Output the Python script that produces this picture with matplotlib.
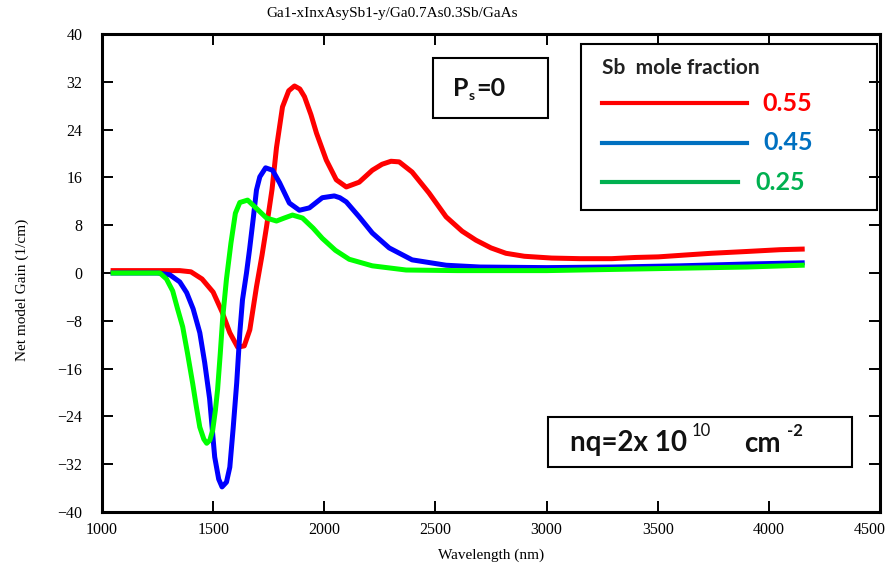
import matplotlib
matplotlib.use("Agg")
import matplotlib.pyplot as plt
from matplotlib.patches import Rectangle
from matplotlib.lines import Line2D
from matplotlib.transforms import ScaledTranslation

# Sb mole fraction 0.55
wl_r = [1050, 1150, 1250, 1350, 1400, 1450, 1500, 1540, 1575, 1610, 1640, 1665, 1695, 1720, 1740,
        1765, 1785, 1812, 1840, 1866, 1890, 1911, 1940, 1965, 2009, 2054, 2099, 2157, 2216, 2260,
        2300, 2337, 2395, 2471, 2548, 2620, 2682, 2750, 2817, 2900, 3023, 3150, 3293, 3400, 3503,
        3620, 3741, 3900, 4050, 4150]
g_r = [0.4, 0.4, 0.4, 0.4, 0.2, -1.0, -3.2, -6.5, -10, -12.4, -12.2, -9.5, -2.3, 3.0, 7.7,
       14, 21, 27.8, 30.5, 31.3, 30.8, 29.5, 26.5, 23.4, 18.9, 15.6, 14.4, 15.2, 17.2, 18.2,
       18.7, 18.6, 16.9, 13.4, 9.4, 7.0, 5.5, 4.2, 3.3, 2.8, 2.5, 2.4, 2.4, 2.6, 2.7,
       3.0, 3.3, 3.6, 3.9, 4.0]

# Sb mole fraction 0.45
wl_b = [1050, 1150, 1250, 1305, 1350, 1381, 1410, 1440, 1462, 1484, 1507, 1525, 1540, 1560, 1575,
        1590, 1606, 1620, 1632, 1650, 1664, 1680, 1695, 1710, 1736, 1767, 1799, 1843, 1888, 1933,
        1991, 2045, 2070, 2099, 2157, 2216, 2292, 2395, 2548, 2700, 3000, 3300, 3600, 3900, 4150]
g_b = [0, 0, 0, -0.3, -1.5, -3.3, -6, -10, -15, -21, -30.8, -34.5, -35.8, -35, -32.5,
       -26, -18.4, -10, -4.5, 0, 4, 9, 13.9, 16.1, 17.6, 17.2, 15.1, 11.7, 10.5, 10.9,
       12.6, 12.9, 12.6, 11.9, 9.4, 6.7, 4.2, 2.2, 1.3, 1.0, 0.9, 1.0, 1.2, 1.5, 1.7]

# Sb mole fraction 0.25
wl_g = [1050, 1150, 1215, 1260, 1290, 1318, 1340, 1363, 1385, 1408, 1425, 1440, 1458, 1471, 1485,
        1498, 1510, 1520, 1532, 1543, 1560, 1580, 1600, 1620, 1655, 1695, 1740, 1785, 1820, 1857,
        1902, 1950, 1991, 2050, 2112, 2216, 2368, 2600, 3000, 3300, 3600, 3900, 4150]
g_g = [0, 0, 0, 0, -1, -3, -6, -9, -13.5, -18.5, -22.5, -25.8, -27.8, -28.5, -28,
       -26.3, -23, -19.5, -13.5, -7.5, -1, 5, 10, 11.8, 12.2, 10.8, 9.2, 8.7, 9.2, 9.7,
       9.2, 7.5, 5.8, 3.8, 2.3, 1.2, 0.5, 0.4, 0.4, 0.6, 0.8, 1.0, 1.3]

fractions = ["0.55", "0.45", "0.25"]
x_ticks = [1000, 1500, 2000, 2500, 3000, 3500, 4000, 4500]
y_ticks = [-40, -32, -24, -16, -8, 0, 8, 16, 24, 32, 40]

W, H = 887, 564
serif = "Liberation Serif"
sans = "Lato"
ink = "#111111"


def fx(px):
    return px / W


def fy(py):
    return 1 - py / H


fig = plt.figure(figsize=(W / 100, H / 100), dpi=100)
ax = fig.add_axes([fx(102), fy(512), fx(880) - fx(102), fy(34) - fy(512)])

ax.plot(wl_r, g_r, color="#ff0000", lw=3.6, solid_joinstyle="round")
ax.plot(wl_b, g_b, color="#0000ff", lw=3.6, solid_joinstyle="round")
ax.plot(wl_g, g_g, color="#00ff00", lw=3.6, solid_joinstyle="round")

ax.set_xlim(1000, 4500)
ax.set_ylim(-40, 40)
ax.set_xticks(x_ticks)
ax.set_yticks(y_ticks)
ax.tick_params(direction="in", length=8, width=1.4, top=True, right=True,
               labelsize=11.5, pad=7)
ax.tick_params(axis="y", pad=14)
for lab in ax.get_xticklabels() + ax.get_yticklabels():
    lab.set_fontfamily(serif)
# last x label sits against the figure edge, nudge it left a little
last = ax.get_xticklabels()[-1]
last.set_transform(last.get_transform() + ScaledTranslation(-0.10, 0, fig.dpi_scale_trans))
for sp in ax.spines.values():
    sp.set_linewidth(2.2)

ax.set_xlabel("Wavelength (nm)", fontfamily=serif, fontsize=11, labelpad=8)
fig.text(fx(22), fy(290), "Net model Gain (1/cm)", rotation=90, ha="center", va="center",
         fontfamily=serif, fontsize=11)
fig.text(fx(392), fy(14), "Ga1-xInxAsySb1-y/Ga0.7As0.3Sb/GaAs", ha="center", va="center",
         fontfamily=serif, fontsize=11)

# P_s = 0 box
fig.add_artist(Rectangle((fx(433), fy(118)), fx(548) - fx(433), fy(58) - fy(118),
                         transform=fig.transFigure, fill=False, lw=1.5, ec="black"))
fig.text(fx(453), fy(88), "P", fontfamily=sans, fontweight="bold", fontsize=18,
         va="center", ha="left", color=ink)
fig.text(fx(469), fy(96), "s", fontfamily=sans, fontweight="bold", fontsize=10,
         va="center", ha="left", color=ink)
fig.text(fx(476), fy(88), "=0", fontfamily=sans, fontweight="bold", fontsize=18,
         va="center", ha="left", color=ink)

# legend box
fig.add_artist(Rectangle((fx(581), fy(210)), fx(877) - fx(581), fy(44) - fy(210),
                         transform=fig.transFigure, fill=False, lw=1.5, ec="black"))
fig.text(fx(602), fy(68), "Sb  mole fraction", fontfamily=sans, fontweight="bold",
         fontsize=15, va="center", ha="left", color="#222222")
leg_colors = ["#ff0000", "#0070c0", "#00b050"]
leg_rows = [103, 143, 182]
leg_line_end = [747, 747, 738]
leg_text_x = [762, 763, 755]
for frac, c, ry, le, tx in zip(fractions, leg_colors, leg_rows, leg_line_end, leg_text_x):
    fig.add_artist(Line2D([fx(602), fx(le)], [fy(ry), fy(ry)], transform=fig.transFigure,
                          color=c, lw=3))
    fig.text(fx(tx), fy(ry), frac, fontfamily=sans, fontweight="bold", fontsize=18,
             va="center", ha="left", color=c)

# nq box
fig.add_artist(Rectangle((fx(548), fy(467)), fx(852) - fx(548), fy(417) - fy(467),
                         transform=fig.transFigure, fill=False, lw=1.5, ec="black"))
fig.text(fx(570), fy(443), "nq=2x 10", fontfamily=sans, fontweight="bold", fontsize=20,
         va="center", ha="left", color=ink)
fig.text(fx(692), fy(431), "10", fontfamily=sans, fontsize=12, va="center", ha="left",
         color=ink)
fig.text(fx(744), fy(444), "cm", fontfamily=sans, fontweight="bold", fontsize=20,
         va="center", ha="left", color=ink)
fig.text(fx(787), fy(431), "-2", fontfamily=sans, fontsize=12, fontweight="bold",
         va="center", ha="left", color=ink)

fig.savefig("out.png", dpi=100)
